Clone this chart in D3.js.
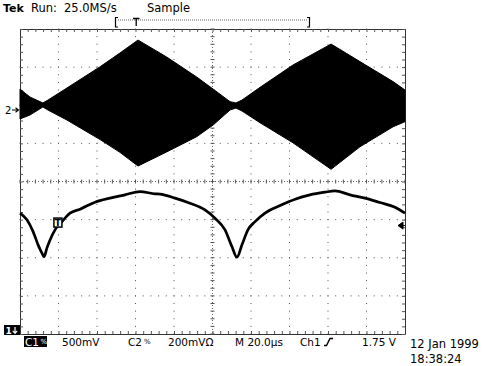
<!DOCTYPE html>
<html>
<head>
<meta charset="utf-8">
<script src="https://cdn.jsdelivr.net/npm/d3@7"></script>
<style>
body { margin: 0; background: #fff; }
text { font-family: 'DejaVu Sans', sans-serif; }
</style>
</head>
<body>
<div class="scope"></div>
<script>
// channel 2: envelope of the burst (V, relative to the 2-> marker)
const ch2Time = [0, 5.2, 11.9, 14.5, 24.3, 41.6, 51.9, 61.3, 76.2, 91.8, 100.3, 109.1, 112.2, 115.3, 124.7, 141.8, 161.6, 176.6, 193.8, 200]
const ch2Upper = [0.110, 0.068, 0.037, 0.052, 0.115, 0.227, 0.299, 0.367, 0.278, 0.173, 0.110, 0.044, 0.037, 0.052, 0.119, 0.236, 0.346, 0.254, 0.149, 0.105]
const ch2Lower = [-0.047, -0.026, 0.016, 0.000, -0.052, -0.155, -0.222, -0.294, -0.220, -0.140, -0.079, 0.000, 0.010, -0.005, -0.067, -0.172, -0.311, -0.193, -0.088, -0.061]

// channel 1 (V)
const ch1Time = [0, 3.6, 6.8, 9.4, 11.4, 12.5, 14.0, 15.6, 18.2, 21.8, 26.0, 31.2, 39.0, 46.8, 54.5, 62.3, 70.1, 72.7, 80.5, 88.3, 96.1, 101.3, 106.5, 110.1, 112.7, 115.3, 118.4, 122.1, 127.3, 135.1, 142.9, 150.6, 158.4, 163.6, 171.4, 179.2, 187.0, 194.8, 200]
const ch1Volts = [1.913, 1.825, 1.671, 1.497, 1.388, 1.343, 1.457, 1.562, 1.694, 1.802, 1.913, 1.965, 2.057, 2.110, 2.153, 2.196, 2.166, 2.162, 2.110, 2.044, 1.956, 1.847, 1.694, 1.474, 1.335, 1.497, 1.694, 1.802, 1.913, 2.012, 2.096, 2.153, 2.188, 2.205, 2.153, 2.110, 2.052, 1.991, 1.913]

// scope settings
const voltsPerDiv = [0.5, 0.2]
const chPosDiv = [-4.656, 1.875]
const usPerDiv = 20
const trigLevel = 1.75
const trigTime = 19.7

const headerLabels = [['Run:', 31], ['25.0MS/s', 64], ['Sample', 147]]
const statusLabels = [
    ['500mV', 62], ['C2', 128], ['200mVΩ', 168], ['M 20.0µs', 235], ['Ch1', 300], ['1.75 V', 362]
]
const dateLabels = ['12 Jan 1999', '18:38:24']

const W = 486, H = 366
const gLeft = 20, gRight = 405, gTop = 29, gBottom = 334

const svg = d3.select('.scope').append('svg')
    .attr('width', W)
    .attr('height', H)

svg.append('rect').attr('width', W).attr('height', H).attr('fill', '#fff')

const xDiv = d3.scaleLinear().domain([0, 10]).range([gLeft, gRight])
const yDiv = d3.scaleLinear().domain([-4, 4]).range([gBottom, gTop])
const x = d3.scaleLinear().domain([0, usPerDiv * 10]).range([gLeft, gRight])
const yCh = i => v => yDiv(chPosDiv[i] + v / voltsPerDiv[i])
const y1 = yCh(0), y2 = yCh(1)

const minorX = d3.range(0, 51).map(i => i / 5)
const minorY = d3.range(-20, 21).map(i => i / 5)

// graticule dots
const grat = svg.append('g').attr('fill', '#555')
d3.range(1, 10).filter(i => i !== 5).forEach(i => {
    grat.selectAll(null).data(minorY).enter().append('rect')
        .attr('x', xDiv(i) - 0.5).attr('y', d => yDiv(d) - 0.5)
        .attr('width', 1).attr('height', 1)
})
d3.range(-3, 4).filter(j => j !== 0).forEach(j => {
    grat.selectAll(null).data(minorX).enter().append('rect')
        .attr('x', d => xDiv(d) - 0.5).attr('y', yDiv(j) - 0.5)
        .attr('width', 1).attr('height', 1)
})

const axisStyle = g => {
    g.selectAll('path').attr('stroke', '#333')
    g.selectAll('line').attr('stroke', '#555')
    g.selectAll('text').remove()
}

// border with minor ticks
svg.append('g').attr('transform', `translate(0,${gTop})`)
    .call(d3.axisBottom(xDiv).tickValues(minorX).tickSizeInner(3).tickSizeOuter(0).tickFormat(''))
    .call(axisStyle)
svg.append('g').attr('transform', `translate(0,${gBottom})`)
    .call(d3.axisTop(xDiv).tickValues(minorX).tickSizeInner(3).tickSizeOuter(0).tickFormat(''))
    .call(axisStyle)
svg.append('g').attr('transform', `translate(${gLeft},0)`)
    .call(d3.axisRight(yDiv).tickValues(minorY).tickSizeInner(3).tickSizeOuter(0).tickFormat(''))
    .call(axisStyle)
svg.append('g').attr('transform', `translate(${gRight},0)`)
    .call(d3.axisLeft(yDiv).tickValues(minorY).tickSizeInner(3).tickSizeOuter(0).tickFormat(''))
    .call(axisStyle)

// centre cross
const cross = svg.append('g')
cross.append('line')
    .attr('x1', gLeft).attr('x2', gRight).attr('y1', yDiv(0)).attr('y2', yDiv(0))
    .attr('stroke', '#666').attr('stroke-dasharray', '1,2')
cross.append('line')
    .attr('x1', xDiv(5)).attr('x2', xDiv(5)).attr('y1', gTop).attr('y2', gBottom)
    .attr('stroke', '#666').attr('stroke-dasharray', '1,2')
cross.selectAll('.hx').data(minorX).enter().append('line')
    .attr('x1', d => xDiv(d)).attr('x2', d => xDiv(d))
    .attr('y1', yDiv(0) - 2).attr('y2', yDiv(0) + 2)
    .attr('stroke', '#555')
cross.selectAll('.vy').data(minorY).enter().append('line')
    .attr('y1', d => yDiv(d)).attr('y2', d => yDiv(d))
    .attr('x1', xDiv(5) - 2).attr('x2', xDiv(5) + 2)
    .attr('stroke', '#555')

// channel 2 burst
const ch2 = ch2Time.map((t, i) => ({ t, hi: ch2Upper[i], lo: ch2Lower[i] }))
svg.append('path')
    .datum(ch2)
    .attr('d', d3.area().x(d => x(d.t)).y0(d => y2(d.lo)).y1(d => y2(d.hi)))
    .attr('fill', '#000')
    .attr('stroke', '#000')
    .attr('stroke-width', 1)

// channel 1 trace
const ch1 = ch1Time.map((t, i) => ({ t, v: ch1Volts[i] }))
svg.append('path')
    .datum(ch1)
    .attr('d', d3.line().x(d => x(d.t)).y(d => y1(d.v)).curve(d3.curveMonotoneX))
    .attr('fill', 'none')
    .attr('stroke', '#000')
    .attr('stroke-width', 2.7)

// trigger marker on trace
const tx = x(trigTime), ty = y1(trigLevel) - 3
svg.append('rect')
    .attr('x', tx - 4).attr('y', ty - 4.5).attr('width', 8).attr('height', 9)
    .attr('fill', '#fff').attr('stroke', '#000').attr('stroke-width', 1.5)
svg.append('text')
    .attr('x', tx).attr('y', ty + 3.5).attr('text-anchor', 'middle')
    .attr('font-size', 9).attr('font-weight', 'bold').text('T')

// trigger level arrow on right
const ly = y1(trigLevel)
svg.append('path')
    .attr('d', `M${gRight - 7},${ly} L${gRight - 2},${ly - 3.5} L${gRight - 2},${ly + 3.5} Z M${gRight - 3},${ly} H${gRight}`)
    .attr('fill', '#000').attr('stroke', '#000').attr('stroke-width', 1)

// channel 2 ground marker
svg.append('text')
    .attr('x', 5).attr('y', y2(0) + 3.8)
    .attr('font-size', 10).text('2')
svg.append('path')
    .attr('d', `M12,${y2(0)} H18 M15.5,${y2(0) - 2.2} L18.5,${y2(0)} L15.5,${y2(0) + 2.2}`)
    .attr('fill', 'none').attr('stroke', '#000').attr('stroke-width', 1.1)

// channel 1 marker (off screen below)
svg.append('rect').attr('x', 4).attr('y', 325).attr('width', 16).attr('height', 10).attr('fill', '#000')
svg.append('text').attr('x', 5.5).attr('y', 333.5).attr('fill', '#fff')
    .attr('font-size', 9).attr('font-weight', 'bold').text('1')
svg.append('path')
    .attr('d', 'M15,327 V333 M12.8,330.8 L15,333.3 L17.2,330.8')
    .attr('fill', 'none').attr('stroke', '#fff').attr('stroke-width', 1.2)

// header
svg.append('text').attr('x', 3).attr('y', 11.5).attr('font-size', 11).attr('font-weight', 'bold').text('Tek')
svg.selectAll('.head').data(headerLabels).enter().append('text')
    .attr('x', d => d[1]).attr('y', 11.5)
    .attr('font-size', 11.5)
    .text(d => d[0])

// record bracket
const rec = svg.append('g').attr('stroke', '#000').attr('fill', 'none')
rec.append('path').attr('d', 'M118,17.5 H115.5 V27 H118').attr('stroke-width', 1.2)
rec.append('path').attr('d', 'M307,17.5 H309.5 V27 H307').attr('stroke-width', 1.2)
rec.append('line').attr('x1', 118).attr('x2', 307).attr('y1', 20).attr('y2', 20)
    .attr('stroke', '#666').attr('stroke-dasharray', '1,1')
rec.append('path').attr('d', 'M133,18.5 H139.5 M136.2,18.5 V26').attr('stroke-width', 1.3)

// status line
svg.append('rect').attr('x', 24).attr('y', 336).attr('width', 23).attr('height', 11).attr('fill', '#000')
svg.append('text').attr('x', 25).attr('y', 345.5).attr('font-size', 10.5).attr('fill', '#fff').text('C1')
svg.append('text').attr('x', 40.5).attr('y', 344).attr('font-size', 7).attr('fill', '#fff').text('%')
svg.selectAll('.status').data(statusLabels).enter().append('text')
    .attr('x', d => d[1]).attr('y', 345.5)
    .attr('font-size', 10.5)
    .text(d => d[0])
svg.append('text').attr('x', 144).attr('y', 344).attr('font-size', 7).text('%')
svg.append('path')
    .attr('d', 'M324,345.5 H326.5 L330,338.5 H333')
    .attr('fill', 'none').attr('stroke', '#000').attr('stroke-width', 1.4)

svg.selectAll('.date').data(dateLabels).enter().append('text')
    .attr('x', 410).attr('y', (d, i) => 348 + i * 14.5)
    .attr('font-size', 11.5)
    .text(d => d)
</script>
</body>
</html>
